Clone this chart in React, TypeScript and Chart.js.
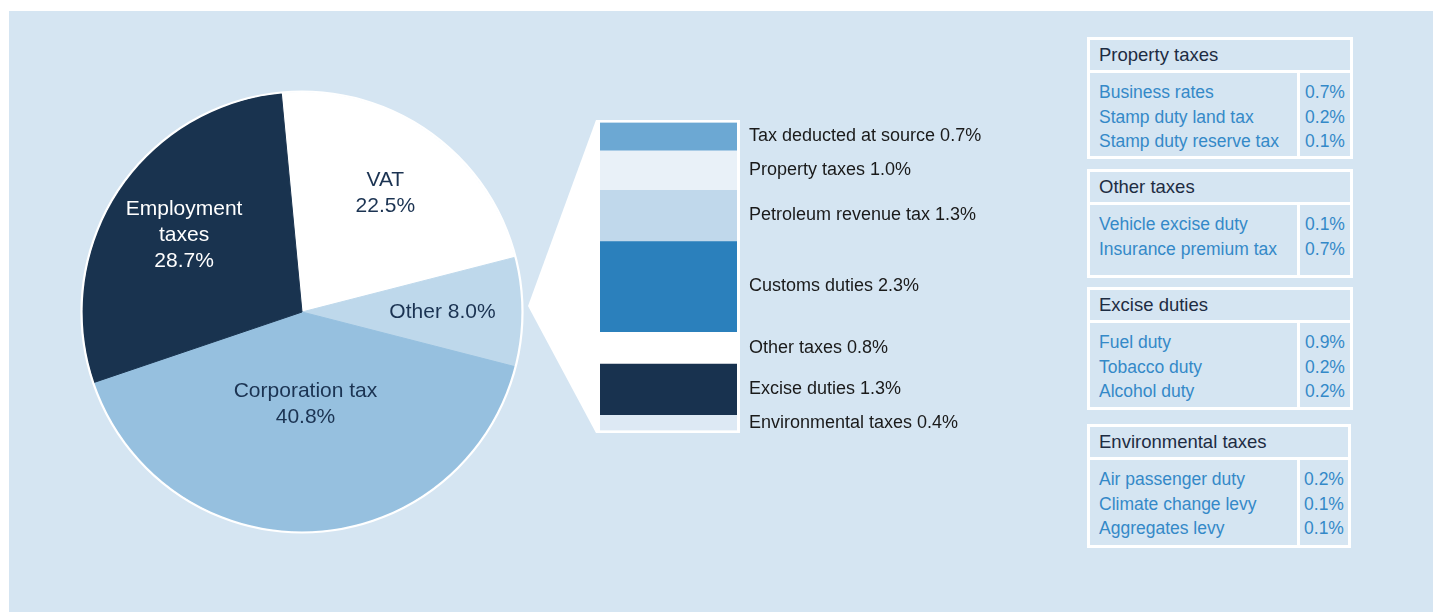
import React, { useEffect, useRef } from "react";
import { Chart, registerables } from "chart.js";

Chart.register(...registerables);

// ---------- data ----------
const pieCategories = ["VAT", "Other", "Corporation tax", "Employment taxes"];
const pieValues = [22.5, 8.0, 40.8, 28.7];
const pieLabelLines = [["VAT"], [], ["Corporation tax"], ["Employment", "taxes"]];

const breakdownCategories = [
  "Tax deducted at source",
  "Property taxes",
  "Petroleum revenue tax",
  "Customs duties",
  "Other taxes",
  "Excise duties",
  "Environmental taxes",
];
const breakdownValues = [0.7, 1.0, 1.3, 2.3, 0.8, 1.3, 0.4];

const propertyTaxItems = ["Business rates", "Stamp duty land tax", "Stamp duty reserve tax"];
const propertyTaxValues = [0.7, 0.2, 0.1];
const otherTaxItems = ["Vehicle excise duty", "Insurance premium tax"];
const otherTaxValues = [0.1, 0.7];
const exciseItems = ["Fuel duty", "Tobacco duty", "Alcohol duty"];
const exciseValues = [0.9, 0.2, 0.2];
const environmentalItems = ["Air passenger duty", "Climate change levy", "Aggregates levy"];
const environmentalValues = [0.2, 0.1, 0.1];

// ---------- styles / layout ----------
const FONT = '"Liberation Sans", Arial, Helvetica, sans-serif';
const BG = "#d5e5f2";
const PIE_COLORS = ["#ffffff", "#bed8eb", "#96c0df", "#19334f"];
const PIE_LABEL_COLORS = ["#1b3352", "#1b3352", "#1b3352", "#ffffff"];
const PIE_LABEL_RADIUS = [0.66, 0.64, 0.42, 0.64];
const BREAKDOWN_COLORS = ["#6ca8d3", "#e9f1f8", "#c0d8eb", "#2b80bc", "#ffffff", "#18324f", "#dde9f4"];

const PIE_BOX = { left: 77, top: 87, size: 450 };
const PIE_PAD = 5;
const BAR_BOX = { left: 520, top: 100, width: 480, height: 350 };
const APEX = { x: 528, y: 306 };

const TABLE_BLUE = "#3489c8";
const TABLE_DARK = "#1d2c42";

const fmt = (v: number) => v.toFixed(1) + "%";

const pieRingPlugin = {
  id: "pieRing",
  afterDatasetsDraw(chart: any) {
    const arc: any = chart.getDatasetMeta(0).data[0];
    if (!arc) return;
    const ctx = chart.ctx;
    ctx.save();
    ctx.beginPath();
    ctx.arc(arc.x, arc.y, arc.outerRadius + 1, 0, Math.PI * 2);
    ctx.lineWidth = 2.2;
    ctx.strokeStyle = "#ffffff";
    ctx.stroke();
    ctx.restore();
  },
};

const pieLabelPlugin = {
  id: "pieLabels",
  afterDatasetsDraw(chart: any) {
    const ctx = chart.ctx;
    const meta = chart.getDatasetMeta(0);
    ctx.save();
    ctx.font = `21px ${FONT}`;
    ctx.textAlign = "center";
    ctx.textBaseline = "middle";
    meta.data.forEach((arc: any, i: number) => {
      const mid = (arc.startAngle + arc.endAngle) / 2;
      const r = arc.outerRadius * PIE_LABEL_RADIUS[i];
      const x = arc.x + Math.cos(mid) * r;
      const y = arc.y + Math.sin(mid) * r;
      const lines =
        pieLabelLines[i].length === 0
          ? [`${pieCategories[i]} ${fmt(pieValues[i])}`]
          : [...pieLabelLines[i], fmt(pieValues[i])];
      const lh = 26;
      const y0 = y - ((lines.length - 1) * lh) / 2;
      ctx.fillStyle = PIE_LABEL_COLORS[i];
      lines.forEach((t: string, k: number) => ctx.fillText(t, x, y0 + k * lh));
    });
    ctx.restore();
  },
};

const connectorPlugin = {
  id: "connector",
  beforeDatasetsDraw(chart: any) {
    const { left, right, top, bottom } = chart.chartArea;
    const ctx = chart.ctx;
    const ax = APEX.x - BAR_BOX.left;
    const ay = APEX.y - BAR_BOX.top;
    ctx.save();
    ctx.fillStyle = "#ffffff";
    ctx.beginPath();
    ctx.moveTo(ax, ay);
    ctx.lineTo(left - 4, top - 2.5);
    ctx.lineTo(right + 3, top - 2.5);
    ctx.lineTo(right + 3, bottom + 2.5);
    ctx.lineTo(left - 4, bottom + 2.5);
    ctx.closePath();
    ctx.fill();
    ctx.restore();
  },
};

const breakdownLabelPlugin = {
  id: "breakdownLabels",
  afterDatasetsDraw(chart: any) {
    const ctx = chart.ctx;
    ctx.save();
    ctx.font = `18px ${FONT}`;
    ctx.fillStyle = "#1a1a1a";
    ctx.textAlign = "left";
    ctx.textBaseline = "middle";
    chart.data.datasets.forEach((_: any, i: number) => {
      const el: any = chart.getDatasetMeta(i).data[0];
      if (!el) return;
      const { x, y, base, width } = el.getProps(["x", "y", "base", "width"], true);
      ctx.fillText(`${breakdownCategories[i]} ${fmt(breakdownValues[i])}`, x + width / 2 + 12, (y + base) / 2);
    });
    ctx.restore();
  },
};

type TableProps = {
  title: string;
  items: string[];
  values: number[];
  top: number;
  height: number;
  width: number;
};

function TaxTable({ title, items, values, top, height, width }: TableProps) {
  return (
    <div
      style={{
        position: "absolute",
        left: 1087,
        top,
        width,
        height,
        border: "3px solid #ffffff",
        boxSizing: "border-box",
        fontFamily: FONT,
      }}
    >
      <div
        style={{
          height: 30,
          lineHeight: "30px",
          paddingLeft: 9,
          fontSize: 18.5,
          color: TABLE_DARK,
          borderBottom: "3px solid #ffffff",
          whiteSpace: "nowrap",
        }}
      >
        {title}
      </div>
      <div style={{ display: "flex", height: "calc(100% - 33px)" }}>
        <div
          style={{
            width: 210,
            borderRight: "3px solid #ffffff",
            boxSizing: "border-box",
            paddingTop: 7,
            paddingLeft: 9,
          }}
        >
          {items.map((t) => (
            <div key={t} style={{ height: 24.5, lineHeight: "24.5px", fontSize: 17.5, color: TABLE_BLUE, whiteSpace: "nowrap" }}>
              {t}
            </div>
          ))}
        </div>
        <div style={{ flex: 1, paddingTop: 7, textAlign: "center" }}>
          {values.map((v, k) => (
            <div key={k} style={{ height: 24.5, lineHeight: "24.5px", fontSize: 17.5, color: TABLE_BLUE }}>
              {fmt(v)}
            </div>
          ))}
        </div>
      </div>
    </div>
  );
}

export default function App() {
  const pieRef = useRef<HTMLCanvasElement>(null);
  const barRef = useRef<HTMLCanvasElement>(null);

  useEffect(() => {
    if (!pieRef.current || !barRef.current) return;
    const pie = new Chart(pieRef.current, {
      type: "pie",
      data: {
        labels: pieCategories,
        datasets: [
          {
            data: pieValues,
            backgroundColor: PIE_COLORS,
            borderColor: PIE_COLORS,
            borderWidth: 1,
            hoverOffset: 0,
          },
        ],
      },
      options: {
        animation: false,
        responsive: false,
        events: [],
        rotation: 90 - (pieValues[0] + pieValues[1] / 2) * 3.6,
        layout: { padding: PIE_PAD },
        plugins: { legend: { display: false }, tooltip: { enabled: false } },
      },
      plugins: [pieRingPlugin, pieLabelPlugin],
    } as any);

    const total = breakdownValues.reduce((a, b) => a + b, 0);
    const bar = new Chart(barRef.current, {
      type: "bar",
      data: {
        labels: ["Other"],
        datasets: breakdownCategories.map((name, i) => ({
          label: name,
          data: [breakdownValues[i]],
          backgroundColor: BREAKDOWN_COLORS[i],
          borderWidth: 0,
          barPercentage: 1,
          categoryPercentage: 1,
        })),
      },
      options: {
        animation: false,
        responsive: false,
        events: [],
        layout: { padding: { left: 80, right: 263, top: 22.5, bottom: 19.5 } },
        scales: {
          x: { stacked: true, display: false },
          y: { stacked: true, display: false, reverse: true, min: 0, max: total },
        },
        plugins: { legend: { display: false }, tooltip: { enabled: false } },
      },
      plugins: [connectorPlugin, breakdownLabelPlugin],
    } as any);

    return () => {
      pie.destroy();
      bar.destroy();
    };
  }, []);

  return (
    <div style={{ position: "absolute", left: 0, top: 0, width: 1433, height: 612, overflow: "hidden" }}>
      <div style={{ position: "absolute", left: 9, top: 11, right: 0, bottom: 0, background: BG }} />
      <canvas
        ref={pieRef}
        width={PIE_BOX.size}
        height={PIE_BOX.size}
        style={{ position: "absolute", left: PIE_BOX.left, top: PIE_BOX.top, width: PIE_BOX.size, height: PIE_BOX.size }}
      />
      <canvas
        ref={barRef}
        width={BAR_BOX.width}
        height={BAR_BOX.height}
        style={{ position: "absolute", left: BAR_BOX.left, top: BAR_BOX.top, width: BAR_BOX.width, height: BAR_BOX.height }}
      />
      <TaxTable title="Property taxes" items={propertyTaxItems} values={propertyTaxValues} top={37} height={122} width={266} />
      <TaxTable title="Other taxes" items={otherTaxItems} values={otherTaxValues} top={169} height={109} width={266} />
      <TaxTable title="Excise duties" items={exciseItems} values={exciseValues} top={287} height={123} width={266} />
      <TaxTable title="Environmental taxes" items={environmentalItems} values={environmentalValues} top={424} height={124} width={264} />
    </div>
  );
}
